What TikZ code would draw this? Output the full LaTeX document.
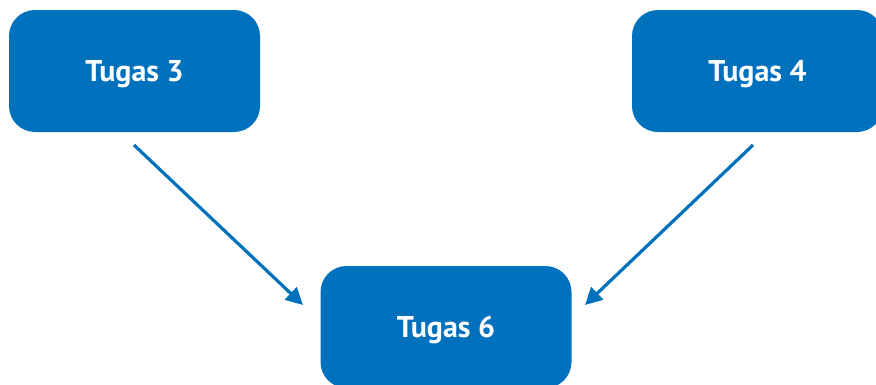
\documentclass[tikz,border=0pt]{standalone}
\usepackage{fontspec}
\setmainfont{PT Sans}
\usetikzlibrary{arrows.meta}
\definecolor{tblue}{RGB}{0,113,188}
\begin{document}
\begin{tikzpicture}[x=1pt,y=-1pt,
  taskbox/.style={fill=tblue, draw=none, rounded corners=26pt, minimum width=251pt, minimum height=122pt, inner sep=0pt, text height=20pt, text depth=0pt, text=white, font=\bfseries\fontsize{30}{34}\selectfont},
  conn/.style={draw=tblue, line width=3.2pt, -{Triangle[length=17pt,width=17pt]}}]
\useasboundingbox (0,0) rectangle (876,384);
\begin{scope}
\clip (0,0) rectangle (876,384);
\node[taskbox] (t3) at (134.5,71) {Tugas 3};
\node[taskbox] (t4) at (757.5,71) {Tugas 4};
\node[taskbox] (t6) at (446,327) {Tugas 6};
\end{scope}
\coordinate (s3) at (134,145);
\coordinate (e3) at (303,305);
\coordinate (s4) at (753,145);
\coordinate (e4) at (585,305);
\draw[conn] (s3) -- (e3);
\draw[conn] (s4) -- (e4);
\end{tikzpicture}
\end{document}
